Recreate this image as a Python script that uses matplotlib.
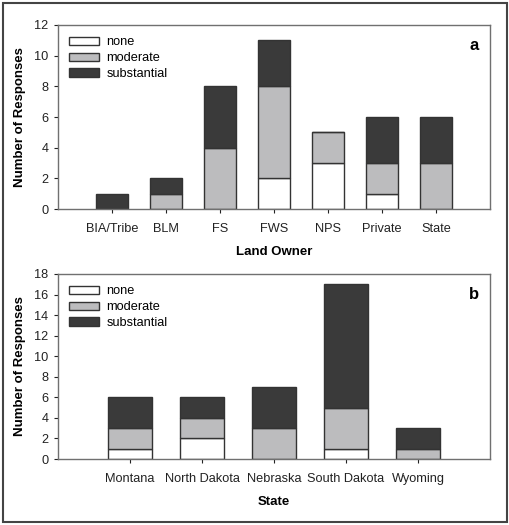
import numpy as np
import matplotlib
matplotlib.use('Agg')
from matplotlib import pyplot as plt
from matplotlib.patches import Rectangle

plt.rcParams['font.family'] = ['Liberation Sans', 'DejaVu Sans']

# Panel a: land owners
owners = ['BIA/Tribe', 'BLM', 'FS', 'FWS', 'NPS', 'Private', 'State']
owner_none = [0, 0, 0, 2, 3, 1, 0]
owner_moderate = [0, 1, 4, 6, 2, 2, 3]
owner_substantial = [1, 1, 4, 3, 0, 3, 3]

# Panel b: states
states = ['Montana', 'North Dakota', 'Nebraska', 'South Dakota', 'Wyoming']
state_none = [1, 2, 0, 1, 0]
state_moderate = [2, 2, 3, 4, 1]
state_substantial = [3, 2, 4, 12, 2]

levels = ['none', 'moderate', 'substantial']
colors = ['white', '#bcbcbe', '#3a3a3a']
edge = '#333333'
frame = '#707070'

fig = plt.figure(figsize=(5.1, 5.25), dpi=100)
fig.add_artist(Rectangle((0.006, 0.006), 0.988, 0.988, transform=fig.transFigure,
                         fill=False, edgecolor='#444444', linewidth=1.5))

ax_a = fig.add_axes([58 / 510, 1 - 209 / 525, 432 / 510, 184 / 525])
ax_b = fig.add_axes([58 / 510, 1 - 459 / 525, 432 / 510, 185 / 525])


def stacked(ax, cats, series, ymax, step, xlabel, tag):
    x = np.arange(len(cats))
    bottom = np.zeros(len(cats))
    for name, vals, c in zip(levels, series, colors):
        vals = np.array(vals, dtype=float)
        ax.bar(x, vals, 0.6, bottom=bottom, color=c, edgecolor=edge,
               linewidth=1.0, label=name)
        bottom += vals
    ax.set_xlim(-1, len(cats))
    ax.set_ylim(0, ymax)
    ax.set_yticks(np.arange(0, ymax + 1, step))
    ax.set_xticks(x)
    ax.set_xticklabels(cats)
    ax.tick_params(labelsize=9.2, colors='#222222', length=3, width=0.8,
                   direction='out', pad=4)
    ax.tick_params(axis='x', pad=7)
    for s in ax.spines.values():
        s.set_color(frame)
        s.set_linewidth(1.0)
    ax.set_ylabel('Number of Responses', fontsize=9.5, fontweight='bold', labelpad=6)
    ax.set_xlabel(xlabel, fontsize=9.5, fontweight='bold', labelpad=8)
    ax.legend(loc='upper left', frameon=False, fontsize=9.2, handlelength=2.3,
              handleheight=0.65, labelspacing=0.3, borderaxespad=0.6,
              borderpad=0.3, handletextpad=0.6)
    ax.text(0.975, 0.93, tag, transform=ax.transAxes, ha='right', va='top',
            fontsize=12, fontweight='bold')


stacked(ax_a, owners, [owner_none, owner_moderate, owner_substantial], 12, 2, 'Land Owner', 'a')
stacked(ax_b, states, [state_none, state_moderate, state_substantial], 18, 2, 'State', 'b')

fig.savefig('out.png', dpi=100)
